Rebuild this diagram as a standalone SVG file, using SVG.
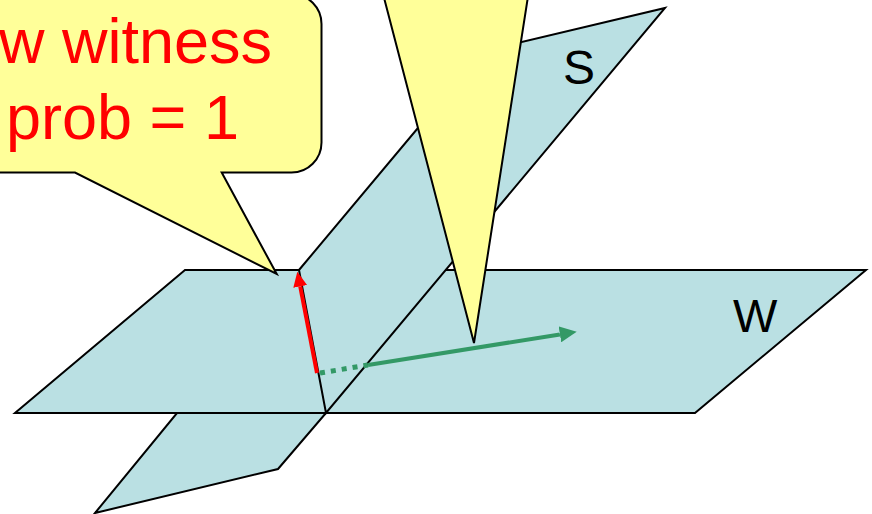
<svg xmlns="http://www.w3.org/2000/svg" width="872" height="514" viewBox="0 0 872 514">
  <style>
    .plane { fill: #bae0e3; stroke: #000; stroke-width: 2; stroke-linejoin: miter; }
    .call { fill: #ffff99; stroke: #000; stroke-width: 2; stroke-linejoin: miter; }
    .ctext { font-family: "Liberation Sans", Arial, sans-serif; font-size: 63px; fill: #ff0000; }
    .lbl { font-family: "Liberation Sans", Arial, sans-serif; fill: #000; }
  </style>
  <defs>
    <marker id="redHead" markerUnits="userSpaceOnUse" markerWidth="16" markerHeight="16" refX="0" refY="7" orient="auto" viewBox="0 0 16 14">
      <path d="M0,0 L15,7 L0,14 z" fill="#ff0000"/>
    </marker>
    <marker id="greenHead" markerUnits="userSpaceOnUse" markerWidth="18" markerHeight="16" refX="0" refY="8" orient="auto" viewBox="0 0 18 16">
      <path d="M0,0 L17,8 L0,16 z" fill="#339966"/>
    </marker>
  </defs>

  <g id="plane-S-lower">
    <polygon class="plane" points="95,513 278,469 326,413 177,413"/>
  </g>

  <g id="plane-W">
    <polygon class="plane" points="185,270 866,270 695,413 15,413"/>
    <text class="lbl" x="733" y="331.5" font-size="47">W</text>
  </g>

  <g id="plane-S">
    <polygon class="plane" points="299,270 482,51.5 665,8 326,413"/>
    <text class="lbl" x="563" y="84" font-size="48">S</text>
  </g>

  <g id="callout-top">
    <polygon class="call" points="382,-10 529,-10 474,343"/>
  </g>

  <g id="callout-left">
    <path class="call" d="M-40,-6 L291.5,-6 A30,30 0 0 1 321.5,24 L321.5,142.5 A30,30 0 0 1 291.5,172.5 L221.7,172.5 L276.7,274 L75,172.5 L-40,172.5 Z"/>
    <text class="ctext" x="272" y="62.7" text-anchor="end">w witness</text>
    <text class="ctext" x="6" y="139.3">prob = 1</text>
  </g>

  <g id="connectors">
    <line x1="317" y1="373" x2="300.2" y2="286.4" stroke="#ff0000" stroke-width="4" marker-end="url(#redHead)"/>
    <line x1="320" y1="373" x2="368" y2="365" stroke="#339966" stroke-width="5" stroke-dasharray="5 6"/>
    <line x1="368" y1="365" x2="559.9" y2="334.4" stroke="#339966" stroke-width="4" marker-end="url(#greenHead)"/>
  </g>
</svg>
